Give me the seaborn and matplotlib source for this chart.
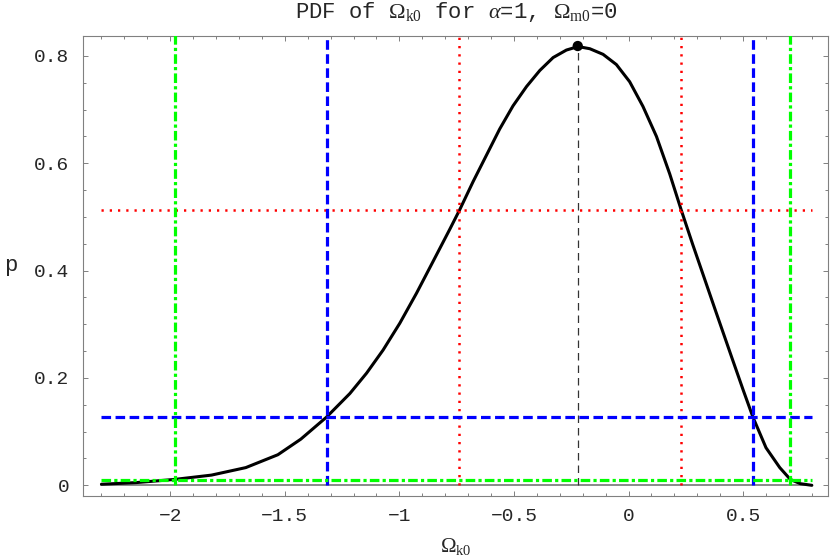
import numpy as np
import pandas as pd
import matplotlib
matplotlib.use("Agg")
import matplotlib.pyplot as plt
from matplotlib.ticker import MultipleLocator, FuncFormatter
import seaborn as sns

# curve
omega_k0 = [-2.30, -2.15, -1.98, -1.82, -1.67, -1.53, -1.43, -1.318, -1.216, -1.143,
            -1.071, -0.998, -0.925, -0.853, -0.780, -0.736, -0.678, -0.620, -0.562, -0.504,
            -0.445, -0.387, -0.329, -0.271, -0.220, -0.169, -0.111, -0.053, 0.005, 0.063,
            0.122, 0.180, 0.230, 0.28, 0.33, 0.38, 0.45, 0.50, 0.543, 0.60,
            0.66, 0.706, 0.75, 0.80]
pdf_p = [0.002, 0.005, 0.011, 0.019, 0.033, 0.057, 0.086, 0.127, 0.171, 0.209,
         0.252, 0.302, 0.358, 0.417, 0.477, 0.514, 0.566, 0.615, 0.664, 0.707,
         0.743, 0.773, 0.797, 0.811, 0.8175, 0.8135, 0.803, 0.784, 0.752, 0.706,
         0.650, 0.580, 0.513, 0.449, 0.387, 0.325, 0.239, 0.178, 0.127, 0.070,
         0.033, 0.011, 0.003, 0.0]

peak_omega = -0.2215
peak_p = 0.8185

# confidence levels: height of the cut and where it meets the curve
level_p = [0.513, 0.127, 0.0099]
level_lo = [-0.740, -1.316, -1.978]
level_hi = [0.230, 0.545, 0.706]
level_color = ["#ff0000", "#0000ff", "#00ff00"]
level_lw = [1.8, 2.3, 2.3]
level_dash = [(0.9, 2.4), (3, 1.4), (3, 1, 1, 1)]

x_ticks = [-2, -1.5, -1, -0.5, 0, 0.5]
y_ticks = [0, 0.2, 0.4, 0.6, 0.8]

sns.set_style("ticks")
plt.rcParams["font.family"] = ["Liberation Mono", "DejaVu Sans"]
plt.rcParams["mathtext.fontset"] = "custom"
plt.rcParams["mathtext.rm"] = "Liberation Serif"
plt.rcParams["mathtext.it"] = "Liberation Serif:italic"
plt.rcParams["mathtext.bf"] = "Liberation Serif:bold"

fig = plt.figure(figsize=(8.3, 5.59), dpi=100)
ax = fig.add_axes([0.1004, 0.1132, 0.8976, 0.8229])

df = pd.DataFrame({"omega": omega_k0, "p": pdf_p})

# y = 0 axis line
ax.plot([omega_k0[0], omega_k0[-1]], [0, 0], color="#808080", lw=1.3, zorder=1)

sns.lineplot(data=df, x="omega", y="p", ax=ax, color="black", lw=2.2, zorder=2)

for p, lo, hi, c, lw, d in zip(level_p, level_lo, level_hi, level_color, level_lw, level_dash):
    ax.hlines(p, omega_k0[0], omega_k0[-1], color=c, lw=lw, linestyles=[(0, d)], zorder=3)
    ax.vlines([lo, hi], 0, 1, color=c, lw=lw, linestyles=[(0, d)], zorder=3)

ax.vlines(peak_omega, 0, peak_p, color="#333333", lw=0.9, linestyles=[(0, (6, 4))], zorder=2)
sns.scatterplot(x=[peak_omega], y=[peak_p], ax=ax, color="black", s=55,
                edgecolor="none", zorder=4)

ax.set_xlim(-2.379, 0.872)
ax.set_ylim(-0.0194, 0.8377)

fmt = FuncFormatter(lambda v, pos: ("%g" % v).replace("-", "\u2212"))
ax.xaxis.set_major_locator(plt.FixedLocator(x_ticks))
ax.yaxis.set_major_locator(plt.FixedLocator(y_ticks))
ax.xaxis.set_minor_locator(MultipleLocator(0.1))
ax.yaxis.set_minor_locator(MultipleLocator(0.05))
ax.xaxis.set_major_formatter(fmt)
ax.yaxis.set_major_formatter(fmt)

ax.tick_params(which="both", direction="in", top=True, right=True,
               color="#808080", width=0.7)
ax.tick_params(which="major", length=3.6, labelsize=14)
ax.tick_params(which="minor", length=2.0)
ax.tick_params(axis="x", which="major", pad=9)
ax.tick_params(axis="y", which="major", pad=10)

for s in ax.spines.values():
    s.set_color("#808080")
    s.set_linewidth(0.8)

ax.set_title(r"PDF of $\Omega_{\rm k0}$ for $\alpha$=1, $\Omega_{\rm m0}$=0",
             fontsize=16, pad=12.5)
ax.set_xlabel(r"$\Omega_{\rm k0}$", fontsize=15)
ax.set_ylabel("p", fontsize=16, rotation=0)
ax.xaxis.set_label_coords(0.5, -0.111)
ax.xaxis.label.set_va("center")
ax.yaxis.set_label_coords(-0.097, 0.5)
ax.yaxis.label.set_va("center")
ax.yaxis.label.set_ha("center")

fig.savefig("out.png", dpi=100)
